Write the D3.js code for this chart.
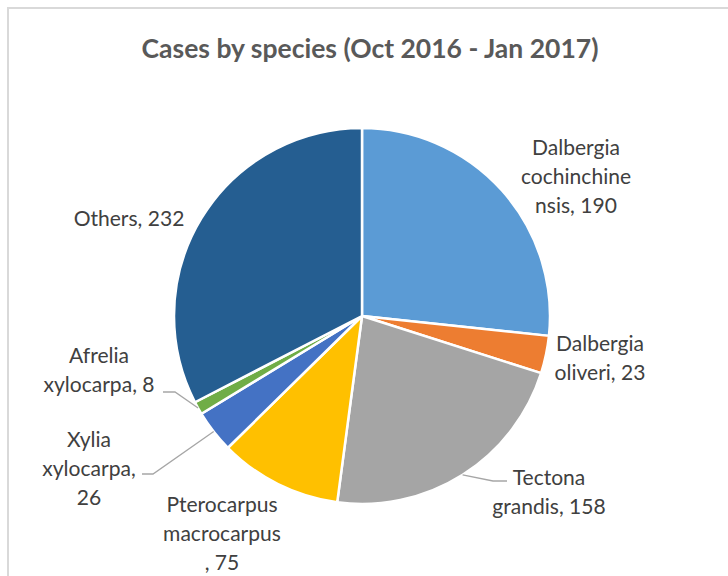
<!DOCTYPE html>
<html>
<head>
<meta charset="utf-8">
<script src="https://cdn.jsdelivr.net/npm/d3@7"></script>
<style>
  html, body { margin: 0; padding: 0; background: #fff; }
  svg { display: block; }
</style>
</head>
<body>
<svg id="chart" width="728" height="576"></svg>
<script>
const title = "Cases by species (Oct 2016 - Jan 2017)";
const categories = ["Dalbergia cochinchinensis", "Dalbergia oliveri", "Tectona grandis",
  "Pterocarpus macrocarpus", "Xylia xylocarpa", "Afrelia xylocarpa", "Others"];
const values = [190, 23, 158, 75, 26, 8, 232];
const colors = ["#5B9BD5", "#ED7D31", "#A5A5A5", "#FFC000", "#4472C4", "#70AD47", "#255E91"];
// label text lines as wrapped in the reference
const labelLines = [
  ["Dalbergia", "cochinchine", "nsis, 190"],
  ["Dalbergia", "oliveri, 23"],
  ["Tectona", "grandis, 158"],
  ["Pterocarpus", "macrocarpus", ", 75"],
  ["Xylia", "xylocarpa,", "26"],
  ["Afrelia", "xylocarpa, 8"],
  ["Others, 232"]
];

// layout (not data)
const cx = 362, cy = 316, R = 188;
const labelLayout = [
  {x: 576, y: 155},
  {x: 600, y: 351},
  {x: 549, y: 485},
  {x: 222, y: 512},
  {x: 89,  y: 447},
  {x: 99,  y: 363},
  {x: 129, y: 226}
];
// leader lines: elbow & end points for the labels that have them
const leaders = {
  2: [[493, 481], [507, 481]],
  4: [[153, 474], [142, 474]],
  5: [[175, 392], [163, 392]]
};
const lineH = 29;

const svg = d3.select("#chart");
const fontFam = "Lato, 'Open Sans', sans-serif";

// border of chart area
svg.append("rect").attr("x", 8).attr("y", 8).attr("width", 900).attr("height", 900)
  .attr("fill", "#fff").attr("stroke", "#d9d9d9").attr("stroke-width", 2);

// fit font sizes by measurement
function fitSize(text, weight, target) {
  const t = svg.append("text").attr("font-family", fontFam).attr("font-weight", weight)
    .attr("font-size", 100).text(text);
  const w = t.node().getComputedTextLength();
  t.remove();
  return 100 * target / w;
}
const titleSize = fitSize(title, "bold", 457);
const labelSize = fitSize("Dalbergia", "normal", 88);

svg.append("text").attr("x", 370).attr("y", 58).attr("text-anchor", "middle")
  .attr("font-family", fontFam).attr("font-weight", "bold").attr("font-size", titleSize)
  .attr("fill", "#595959").text(title);

const pie = d3.pie().sort(null).value(d => d)(values);
const arc = d3.arc().innerRadius(0).outerRadius(R);

const g = svg.append("g").attr("transform", `translate(${cx},${cy})`);
g.selectAll("path").data(pie).join("path")
  .attr("d", arc).attr("fill", (d, i) => colors[i])
  .attr("stroke", "#fff").attr("stroke-width", 2.5).attr("stroke-linejoin", "round");

// leader lines
pie.forEach((d, i) => {
  if (!leaders[i]) return;
  const a = (d.startAngle + d.endAngle) / 2;
  const p0 = [cx + R * Math.sin(a), cy - R * Math.cos(a)];
  const pts = [p0, ...leaders[i]];
  svg.append("path").attr("d", d3.line()(pts))
    .attr("fill", "none").attr("stroke", "#A6A6A6").attr("stroke-width", 1.3);
});

// labels
labelLines.forEach((lines, i) => {
  const L = labelLayout[i];
  const t = svg.append("text").attr("text-anchor", "middle")
    .attr("font-family", fontFam).attr("font-size", labelSize).attr("fill", "#404040");
  lines.forEach((s, k) => {
    t.append("tspan").attr("x", L.x).attr("y", L.y + k * lineH).text(s);
  });
});
</script>
</body>
</html>
